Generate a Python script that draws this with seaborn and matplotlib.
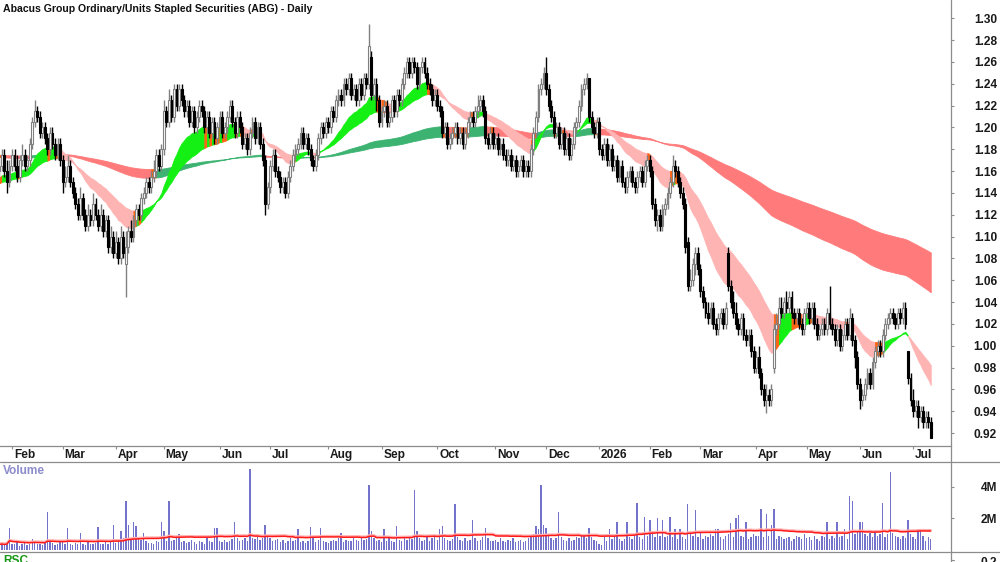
import numpy as np
import pandas as pd
import seaborn as sns
import matplotlib.pyplot as plt
from matplotlib.lines import Line2D

title = "Abacus Group Ordinary/Units Stapled Securities (ABG) - Daily"

# ASX trading days shown on the chart
holidays = ["2025-01-27", "2025-04-18", "2025-04-21", "2025-04-25", "2025-06-09",
            "2025-12-25", "2025-12-26", "2026-01-01", "2026-01-26", "2026-04-03",
            "2026-04-06", "2026-06-08"]
dates = pd.bdate_range("2025-01-24", "2026-07-10", freq="C", holidays=holidays)

# daily prices in cents
opens = [
    116, 116.5, 117.5, 116, 115, 116.5, 117.5, 116.5, 115.5, 117,
    117.5, 116.5, 117, 118.5, 120.5, 121.5, 121, 119.5, 120, 119,
    118, 119.5, 118.5, 117.5, 118.5, 117, 115, 115.5, 116.5, 115,
    114, 113, 112, 113.5, 112, 111, 112, 111.5, 113, 112,
    111, 112, 110.5, 111.5, 109, 110, 108.5, 109.5, 108, 110,
    107.5, 109, 110.5, 110, 111.5, 112.5, 112, 113.5, 114, 115,
    114.5, 115.5, 116, 117.5, 116.5, 118, 121.5, 120.5, 122.5, 121,
    123.5, 122, 123.5, 122.5, 121.5, 122, 120.5, 121.5, 120, 121,
    122, 121.5, 120, 121, 119.5, 120.5, 119, 120, 121, 119.5,
    120, 121, 122, 120.5, 119.5, 121, 120, 118.5, 119, 118,
    119.5, 120.5, 119, 120, 118.5, 117, 113, 114.5, 116.5, 117.5,
    116, 115.5, 114.5, 115, 114, 115.5, 116.5, 117.5, 118, 118.5,
    119.5, 118.5, 119, 118, 117, 116.5, 117.5, 119, 120, 119.5,
    120.5, 120, 121.5, 121, 122.5, 123, 122.5, 124, 123.5, 124.5,
    123, 123.5, 122.5, 124, 123, 124.5, 124, 126.5, 123, 124,
    122.5, 120.5, 121.5, 122, 120.5, 121, 122.5, 121.5, 123, 122.5,
    124, 125, 126, 125, 126, 125.5, 124, 125.5, 126, 125,
    124, 123.5, 122.5, 123, 122, 121.5, 119.5, 120, 118.5, 119,
    119.5, 120, 119, 119.5, 118.5, 119.5, 120.5, 121, 120.5, 121.5,
    122, 122.5, 121.5, 119, 118.5, 119.5, 118.5, 119, 118, 118.5,
    117.5, 117, 117.5, 116.5, 117, 116, 116.5, 117, 116, 116.5,
    116, 118, 119.5, 121, 123.5, 124, 125, 123.5, 122, 121,
    119.5, 120, 118.5, 119.5, 118, 119, 117.5, 118.5, 120, 120.5,
    122, 123.5, 124, 124.5, 121, 120, 119.5, 120.5, 118, 117.5,
    118.5, 117, 118, 116.5, 117, 115.5, 116.5, 115, 114.5, 115.5,
    116, 115, 114.5, 115.5, 116, 115, 116.5, 117, 116, 113,
    111.5, 112, 111, 112.5, 113, 114, 115, 116.5, 116, 115,
    114, 113, 109.5, 105.5, 106, 107.5, 108.5, 107, 105, 104,
    103, 102.5, 103.5, 102, 101.5, 102.5, 103, 102, 108.5, 105.5,
    104, 103, 102, 101.5, 102.5, 101, 100.5, 101, 99.5, 98,
    99, 97.5, 96, 95, 95.5, 95, 98, 101.5, 102, 103.5,
    103, 104, 103.5, 104.5, 103, 102.5, 103, 102, 101.5, 103,
    103.5, 102.5, 103.5, 102, 101, 101.5, 102, 101.5, 103, 102,
    101.5, 100.5, 101.5, 100, 101, 102, 101, 102.5, 100.5, 99,
    96.5, 95, 95.5, 96.5, 97.5, 96.5, 98.5, 99.5, 100, 99.5,
    101, 102, 102.5, 103, 102.5, 102, 103, 102.5, 103.5, 99.5,
    97, 95, 94, 94.5, 93.5, 94, 93, 93.5, 93,
]
highs = [
    117.5, 118, 118, 117, 117, 118, 118, 117.5, 117.5, 118.5,
    118, 117.5, 119, 121, 122.5, 122, 121.5, 120.5, 120.5, 119.5,
    120, 120, 119, 119, 119, 117.5, 116.5, 117.5, 117, 115.5,
    114.5, 113.5, 114.5, 114, 112.5, 113, 112.5, 114, 113.5, 112.5,
    113, 112.5, 112, 112, 111, 110.5, 110.5, 110, 111, 110.5,
    110.5, 111, 111.5, 112, 113, 113, 114, 114.5, 115.5, 115.5,
    116, 117, 118, 118, 118.5, 122.5, 122, 123.5, 123, 124,
    124, 124, 124, 123, 122.5, 122.5, 122, 122, 121.5, 122.5,
    122.5, 122, 121.5, 121.5, 121, 121, 120.5, 121.5, 121.5, 120.5,
    121.5, 122.5, 122.5, 121, 121.5, 121.5, 120.5, 119.5, 119.5, 120,
    121, 121, 120.5, 120.5, 119, 117.5, 115, 117, 118, 118,
    116.5, 116, 115.5, 115.5, 116, 117, 118, 118.5, 119, 120,
    120, 119.5, 119.5, 118.5, 117.5, 118, 119.5, 120.5, 120.5, 121,
    121, 122, 122, 123, 123.5, 123.5, 124.5, 124.5, 125, 125,
    124, 124, 124.5, 124.5, 125, 125, 129.5, 127, 124.5, 124.5,
    123, 122, 122.5, 122.5, 121.5, 123, 123, 123.5, 123.5, 124.5,
    125.5, 126.5, 126.5, 126.5, 126.5, 126, 125.5, 126.5, 126.5, 125.5,
    124.5, 124, 123.5, 123.5, 122.5, 122, 120.5, 120.5, 119.5, 120,
    120.5, 120.5, 120, 120, 120, 121, 121.5, 121.5, 122, 123,
    123, 123, 122, 119.5, 120, 120, 119.5, 119.5, 119, 119,
    118, 118, 118, 117.5, 117.5, 117, 117.5, 117.5, 117, 117,
    118.5, 120, 121.5, 124, 124.5, 125.5, 126.5, 124, 122.5, 121.5,
    120.5, 120.5, 120, 120, 119.5, 119.5, 119, 120.5, 121, 122.5,
    124, 124.5, 125, 124.5, 121.5, 120.5, 121, 121, 118.5, 119,
    119, 118.5, 118.5, 117.5, 117.5, 117, 117, 115.5, 116, 116.5,
    116.5, 115.5, 116, 116.5, 116.5, 117, 117.5, 117.5, 116.5, 113.5,
    112.5, 112.5, 113, 113.5, 114.5, 115.5, 117.5, 117, 116.5, 115.5,
    114.5, 113.5, 110, 107, 108, 109, 109, 107.5, 105.5, 104.5,
    104, 104, 104, 102.5, 103, 103.5, 103.5, 104, 109, 106,
    105, 104, 102.5, 103, 103, 101.5, 101.5, 101.5, 100, 99.5,
    100, 98, 96.5, 96.5, 96, 96.5, 102, 103, 104.5, 104.5,
    104.5, 105, 105, 105, 103.5, 103.5, 103.5, 102.5, 103.5, 104,
    104, 104, 104, 102.5, 102, 102.5, 102.5, 103.5, 105.5, 102.5,
    102, 102, 102, 101.5, 102.5, 102.5, 103.5, 103, 101, 99.5,
    97, 96, 97, 98, 98, 99, 100, 100.5, 100.5, 101.5,
    102.5, 103, 103.5, 103.5, 103, 103.5, 103.5, 104, 104, 99.5,
    97.5, 96, 95, 95, 94.5, 94.5, 94, 94, 93.5,
]
lows = [
    115.5, 116, 115.5, 114, 114.5, 116, 116, 115, 115, 116.5,
    116, 116, 116.5, 118, 120, 120.5, 119, 119, 118.5, 117.5,
    117.5, 118, 117, 117, 116.5, 114, 114.5, 115, 114.5, 113.5,
    112.5, 111.5, 111.5, 111.5, 110.5, 110.5, 111, 111, 111.5, 110.5,
    110.5, 110, 110, 108.5, 108.5, 108, 108, 107.5, 107.5, 108,
    104.5, 108.5, 109.5, 109.5, 111, 111.5, 111.5, 113, 113.5, 114,
    114, 115, 115.5, 116, 116, 117.5, 120, 120, 120.5, 120.5,
    121.5, 121.5, 122, 121, 121, 120, 120, 119.5, 119.5, 120.5,
    121, 119.5, 119.5, 119, 119, 118.5, 118.5, 119.5, 119, 119,
    119.5, 120.5, 120, 119, 119, 119.5, 118, 118, 117.5, 117.5,
    119, 118.5, 118.5, 118, 116.5, 112, 112.5, 114, 116, 115.5,
    115, 114, 114, 113.5, 113.5, 115, 116, 117, 117.5, 118,
    118, 118, 117.5, 116.5, 116, 116, 117, 118.5, 119, 119,
    119.5, 119.5, 120.5, 120.5, 122, 122, 122, 123, 123, 122.5,
    122.5, 122, 122, 122.5, 122.5, 123.5, 123.5, 122.5, 122.5, 121.5,
    120, 120, 121, 120, 120, 120.5, 121, 121, 122, 122,
    123.5, 124.5, 124.5, 124.5, 125, 123.5, 123.5, 125, 124.5, 123.5,
    123, 122, 122, 121.5, 121, 119, 119, 118, 118, 118.5,
    119, 118.5, 118.5, 118, 118, 119, 120, 120, 120, 121,
    121.5, 121, 118.5, 118, 118, 118, 118, 117.5, 117.5, 117,
    116.5, 116.5, 116, 116, 115.5, 115.5, 116, 115.5, 115.5, 115.5,
    115.5, 117.5, 119, 120.5, 123, 123.5, 123, 121.5, 120.5, 119,
    119, 118, 118, 117.5, 117.5, 117, 117, 118, 119.5, 120,
    121.5, 123, 123.5, 120.5, 119.5, 119, 119, 117.5, 117, 117,
    116.5, 116.5, 116, 116, 115, 115, 114.5, 114, 114, 115,
    114.5, 114, 114, 115, 114.5, 114.5, 116, 115.5, 112.5, 111,
    110.5, 110.5, 110.5, 112, 112.5, 113.5, 114.5, 115.5, 114.5, 113.5,
    112.5, 108.5, 105, 105, 105.5, 106.5, 106.5, 104.5, 103.5, 102.5,
    102, 102, 101.5, 101, 101, 102, 101.5, 101.5, 105, 103.5,
    102.5, 101.5, 101, 101, 100.5, 100, 100, 99, 97.5, 97.5,
    97, 95.5, 94.5, 93.8, 94.5, 94.5, 97.5, 101, 101.5, 102.5,
    102.5, 103, 103, 102.5, 102, 102, 101.5, 101, 101, 102.5,
    102, 102, 101.5, 100.5, 100.5, 101, 101, 101, 101.5, 101,
    100, 100, 99.5, 99.5, 100.5, 100.5, 100.5, 100, 98, 96,
    94.2, 94.5, 95, 96, 96, 96, 98, 99, 99, 99,
    100.5, 101.5, 102, 102, 101.5, 101.5, 102, 102, 101.5, 96.5,
    94.5, 93.5, 93.5, 92.5, 93, 92.5, 92.5, 92.5, 91.5,
]
closes = [
    116.5, 117.5, 116, 115, 116.5, 117.5, 116.5, 115.5, 117, 117.5,
    116.5, 117, 118.5, 120.5, 121.5, 121, 119.5, 120, 119, 118,
    119.5, 118.5, 117.5, 118.5, 117, 115, 115.5, 116.5, 115, 114,
    113, 112, 113.5, 112, 111, 112, 111.5, 113, 112, 111,
    112, 110.5, 111.5, 109, 110, 108.5, 109.5, 108, 110, 108.5,
    109, 110.5, 110, 111.5, 112.5, 112, 113.5, 114, 115, 114.5,
    115.5, 116, 117.5, 116.5, 118, 121.5, 120.5, 122.5, 121, 123.5,
    122, 123.5, 122.5, 121.5, 122, 120.5, 121.5, 120, 121, 122,
    121.5, 120, 121, 119.5, 120.5, 119, 120, 121, 119.5, 120,
    121, 122, 120.5, 119.5, 121, 120, 118.5, 119, 118, 119.5,
    120.5, 119, 120, 118.5, 117, 113, 114.5, 116.5, 117.5, 116,
    115.5, 114.5, 115, 114, 115.5, 116.5, 117.5, 118, 118.5, 119.5,
    118.5, 119, 118, 117, 116.5, 117.5, 119, 120, 119.5, 120.5,
    120, 121.5, 121, 122.5, 123, 122.5, 124, 123.5, 124.5, 123,
    123.5, 122.5, 124, 123, 124.5, 124, 127.5, 123, 124, 122.5,
    120.5, 121.5, 122, 120.5, 121, 122.5, 121.5, 123, 122.5, 124,
    125, 126, 125, 126, 125.5, 124, 125.5, 126, 125, 124,
    123.5, 122.5, 123, 122, 121.5, 119.5, 120, 118.5, 119, 119.5,
    120, 119, 119.5, 118.5, 119.5, 120.5, 121, 120.5, 121.5, 122,
    122.5, 121.5, 119, 118.5, 119.5, 118.5, 119, 118, 118.5, 117.5,
    117, 117.5, 116.5, 117, 116, 116.5, 117, 116, 116.5, 116,
    118, 119.5, 121, 123.5, 124, 125, 123.5, 122, 121, 119.5,
    120, 118.5, 119.5, 118, 119, 117.5, 118.5, 120, 120.5, 122,
    123.5, 124, 124.5, 121, 120, 119.5, 120.5, 118, 117.5, 118.5,
    117, 118, 116.5, 117, 115.5, 116.5, 115, 114.5, 115.5, 116,
    115, 114.5, 115.5, 116, 115, 116.5, 117, 116, 113, 111.5,
    112, 111, 112.5, 113, 114, 115, 116.5, 116, 115, 114,
    113, 109, 105.5, 106, 107.5, 108.5, 107, 105, 104, 103,
    102.5, 103.5, 102, 101.5, 102.5, 103, 102, 103.5, 105.5, 104,
    103, 102, 101.5, 102.5, 101, 100.5, 101, 99.5, 98, 99,
    97.5, 96, 95, 95.5, 95, 96, 101.5, 102, 103.5, 103,
    104, 103.5, 104.5, 103, 102.5, 103, 102, 101.5, 103, 103.5,
    102.5, 103.5, 102, 101, 101.5, 102, 101.5, 103, 102, 101.5,
    100.5, 101.5, 100, 101, 102, 101, 102.5, 100.5, 99, 96.5,
    95, 95.5, 96.5, 97.5, 96.5, 98.5, 99.5, 100, 99.5, 101,
    102, 102.5, 103, 102.5, 102, 103, 102.5, 103.5, 102, 97,
    95, 94, 94.5, 93.5, 94, 93, 93.5, 93, 91.5,
]
# daily volume, millions of shares
volumes = [
    0.35, 0.4, 0.3, 0.45, 1.4, 0.35, 0.4, 0.5, 0.25, 0.4,
    0.45, 0.3, 0.35, 0.7, 0.55, 0.4, 0.35, 0.3, 0.5, 2.4,
    0.55, 0.45, 0.3, 0.4, 0.5, 0.6, 0.35, 1.4, 0.4, 0.3,
    0.45, 0.35, 1.1, 0.4, 0.3, 0.5, 0.35, 0.4, 0.45, 1.45,
    0.4, 0.35, 0.5, 0.4, 0.55, 1.6, 0.45, 0.65, 1.2, 0.75,
    3.1, 1.6, 0.75, 1.8, 1.5, 0.85, 0.65, 1.1, 0.55, 0.45,
    0.45, 0.4, 0.55, 0.5, 1.8, 1.2, 0.6, 3.1, 0.55, 0.65,
    0.75, 1.0, 0.5, 0.55, 0.45, 0.5, 0.65, 0.5, 0.4, 0.55,
    0.5, 0.4, 0.75, 0.6, 0.5, 1.4, 1.4, 0.55, 0.5, 0.65,
    0.5, 0.55, 0.7, 1.75, 0.75, 0.55, 0.65, 0.75, 0.6, 5.1,
    0.75, 0.7, 0.85, 0.65, 0.75, 1.6, 0.9, 0.75, 0.55, 0.65,
    0.7, 0.5, 0.65, 0.45, 0.55, 0.75, 0.6, 0.65, 1.3, 0.5,
    0.55, 0.45, 0.6, 1.45, 0.75, 0.5, 0.65, 1.4, 0.55, 0.5,
    0.45, 0.55, 0.65, 0.55, 0.75, 1.05, 0.5, 0.65, 0.55, 0.6,
    0.75, 0.65, 0.55, 0.8, 0.65, 0.7, 4.1, 1.2, 0.75, 0.55,
    0.65, 0.5, 1.3, 0.55, 0.75, 0.6, 0.5, 1.5, 0.65, 0.55,
    0.75, 0.65, 0.9, 0.7, 3.8, 1.2, 0.75, 0.55, 0.65, 0.85,
    0.6, 0.75, 0.9, 0.65, 1.3, 1.5, 0.75, 0.65, 0.55, 0.7,
    2.9, 0.85, 0.65, 0.55, 0.75, 0.6, 0.65, 1.9, 0.75, 0.55,
    0.65, 0.85, 1.4, 0.75, 0.6, 0.55, 0.65, 0.5, 0.75, 0.55,
    0.5, 0.65, 0.55, 0.75, 0.5, 0.55, 0.65, 0.5, 0.6, 0.75,
    0.9, 1.0, 1.5, 1.3, 4.1, 1.6, 1.4, 0.9, 0.75, 0.65,
    0.75, 2.4, 0.85, 0.65, 0.55, 0.75, 0.6, 0.65, 0.85, 0.75,
    0.9, 1.0, 0.75, 1.4, 0.85, 0.65, 0.55, 0.4, 0.3, 0.85,
    0.6, 1.35, 0.7, 0.8, 1.8, 0.7, 0.6, 0.7, 1.75, 0.8,
    0.7, 0.9, 3.0, 0.8, 0.7, 2.1, 0.9, 1.9, 1.2, 0.8,
    2.0, 0.9, 1.9, 0.8, 0.9, 2.1, 0.8, 1.35, 0.7, 1.35,
    0.8, 0.7, 2.9, 1.1, 0.9, 2.5, 0.8, 1.2, 0.7, 0.9,
    0.8, 1.0, 0.9, 1.35, 1.35, 0.8, 0.7, 0.9, 1.0, 1.7,
    0.8, 2.0, 2.2, 0.9, 0.8, 1.8, 0.7, 0.8, 1.0, 0.9,
    0.9, 2.6, 0.8, 2.3, 0.9, 1.6, 2.6, 0.7, 0.9, 0.8,
    0.7, 0.75, 0.8, 0.6, 0.7, 0.9, 0.8, 0.7, 1.0, 0.75,
    0.8, 0.65, 0.9, 0.7, 0.6, 0.9, 0.8, 1.8, 0.7, 0.9,
    0.75, 1.75, 0.8, 0.9, 1.35, 0.7, 3.4, 3.1, 1.0, 1.2,
    1.8, 1.8, 1.0, 0.9, 1.1, 0.8, 1.2, 0.9, 1.0, 3.0,
    0.8, 1.0, 4.9, 1.1, 0.9, 0.8, 0.7, 0.9, 0.75, 1.9,
    1.0, 0.8, 0.7, 1.35, 1.3, 0.9, 0.6, 0.85, 0.7,
]

# moving-average ribbons: spans and their levels at the left edge (cents)
short_spans = [20, 40]
short_start = [115.3, 114.8]
long_spans = [150, 250]
long_start = [117.3, 117.5]

price_ticks = [0.92, 0.94, 0.96, 0.98, 1.00, 1.02, 1.04, 1.06, 1.08, 1.10,
               1.12, 1.14, 1.16, 1.18, 1.20, 1.22, 1.24, 1.26, 1.28, 1.30]
volume_ticks = [2, 4]
volume_labels = ["2M", "4M"]

df = pd.DataFrame({"date": dates, "open": np.array(opens) / 100, "high": np.array(highs) / 100,
                   "low": np.array(lows) / 100, "close": np.array(closes) / 100,
                   "volume": volumes})
df["i"] = np.arange(len(df))


def ema(values, span, start):
    s = pd.Series(np.r_[start, values]).ewm(span=span, adjust=False).mean()
    return s.to_numpy()[1:]


sns.set_style("white")
plt.rcParams["font.family"] = ["Liberation Sans", "DejaVu Sans"]
plt.rcParams["font.weight"] = "bold"

W, H = 1000, 562
fig = plt.figure(figsize=(10, 5.62), dpi=100)
ax = fig.add_axes([0, 116 / H, 951 / W, 446 / H])
axv = fig.add_axes([0, 10 / H, 951 / W, 90 / H])

x = df["i"].to_numpy()
xlim = (0.26, 376.0)
grey = "#8c8c8c"


def draw_band(fast, slow, colours):
    d1 = np.diff(fast, prepend=fast[0])
    d2 = np.diff(slow, prepend=slow[0])
    state = np.where((d1 > 0) & (d2 > 0), 0, np.where((d1 < 0) & (d2 < 0), 1, 2))
    lo, hi = np.minimum(fast, slow), np.maximum(fast, slow)
    start = 0
    for k in range(1, len(state) + 1):
        if k == len(state) or state[k] != state[start]:
            end = min(k + 1, len(state))
            c = colours[state[start]]
            ax.fill_between(x[start:end], lo[start:end], hi[start:end],
                            color=c, linewidth=0.6, edgecolor=c, zorder=1)
            start = k


c = df["close"].to_numpy()
long_f = ema(c, long_spans[0], long_start[0] / 100)
long_s = ema(c, long_spans[1], long_start[1] / 100)
short_f = ema(c, short_spans[0], short_start[0] / 100)
short_s = ema(c, short_spans[1], short_start[1] / 100)
draw_band(long_f, long_s, ["#3cb371", "#ff7a7a", "#ff6414"])
draw_band(short_f, short_s, ["#14f014", "#ffb4b4", "#ff6414"])

# candles
o, h, l = df["open"].to_numpy(), df["high"].to_numpy(), df["low"].to_numpy()
up = c >= o
body_lo = np.minimum(o, c)
body_h = np.maximum(np.abs(c - o), 0.0012)
ax.vlines(x[up], l[up], h[up], color="#808080", linewidth=1.0, zorder=2)
ax.vlines(x[~up], l[~up], h[~up], color="black", linewidth=1.0, zorder=2)
ax.bar(x[up], body_h[up], bottom=body_lo[up], width=0.74, facecolor="white",
       edgecolor="#808080", linewidth=0.8, zorder=3)
ax.bar(x[~up], body_h[~up], bottom=body_lo[~up], width=0.74, facecolor="black",
       edgecolor="black", linewidth=0.8, zorder=3)

ax.set_xlim(*xlim)
ax.set_ylim(0.9081, 1.3168)
ax.yaxis.tick_right()
ax.set_yticks(price_ticks)
ax.set_yticklabels([f"{t:.2f}" for t in price_ticks])
ax.tick_params(axis="y", right=True, direction="out", length=2.2, width=0.8, color=grey,
               pad=31, labelsize=8.6, labelcolor="#1a1a1a")
for lab in ax.get_yticklabels():
    lab.set_ha("right")

# month axis
month_start = df.groupby([df["date"].dt.year, df["date"].dt.month])["i"].min().iloc[1:]
month_names = []
for (yr, mo), idx in month_start.items():
    month_names.append(str(yr) if mo == 1 else pd.Timestamp(yr, mo, 1).strftime("%b"))
ax.set_xticks(month_start.to_numpy())
ax.set_xticklabels([])
ax.tick_params(axis="x", bottom=True, direction="out", length=2.5, width=0.8, color=grey)
for idx, name in zip(month_start.to_numpy(), month_names):
    ax.annotate(name, xy=(idx, 0), xycoords=("data", "axes fraction"), xytext=(1.3, -6.3),
                textcoords="offset points", ha="left", va="center", fontsize=8.6,
                color="#1a1a1a", annotation_clip=False)
for side in ["top", "left", "right"]:
    ax.spines[side].set_visible(False)
ax.spines["bottom"].set_color(grey)
ax.spines["bottom"].set_linewidth(0.9)

# volume panel
axv.bar(x, df["volume"], width=0.55, color="#7373cc", linewidth=0)
df["vol_ma"] = df["volume"].rolling(50, min_periods=1).mean()
sns.lineplot(x=x, y=df["vol_ma"].to_numpy() + 0.06, ax=axv, color="#ffb0b0", linewidth=1.6)
sns.lineplot(x=x, y=df["vol_ma"].to_numpy(), ax=axv, color="#ff1a1a", linewidth=1.1)
axv.set_xlim(*xlim)
axv.set_ylim(-0.126, 5.56)
axv.set_xticks([])
axv.yaxis.tick_right()
axv.set_yticks(volume_ticks)
axv.set_yticklabels(volume_labels)
axv.tick_params(axis="y", right=True, direction="out", length=2.2, width=0.8, color=grey,
                pad=31, labelsize=8.6, labelcolor="#1a1a1a")
for lab in axv.get_yticklabels():
    lab.set_ha("right")
for s in axv.spines.values():
    s.set_visible(False)

# frame lines shared by the panels
for yp in [462, 552]:
    fig.add_artist(Line2D([0, 1], [1 - yp / H, 1 - yp / H], transform=fig.transFigure,
                          color=grey, linewidth=0.9))
fig.add_artist(Line2D([951 / W, 951 / W], [0, 1], transform=fig.transFigure,
                      color=grey, linewidth=0.9))
fig.add_artist(Line2D([951 / W, 954 / W], [1 - 560 / H, 1 - 560 / H], transform=fig.transFigure,
                      color=grey, linewidth=0.8))

fig.text(3 / W, 1 - 8.5 / H, title, ha="left", va="center", fontsize=7.6, color="#111111")
fig.text(3 / W, 1 - 471 / H, "Volume", ha="left", va="center", fontsize=8.6, color="#8c8ccc")
fig.text(3 / W, 1 - 555 / H, "RSC", ha="left", va="top", fontsize=8.6, color="#1a9a1a")
fig.text(997 / W, 1 - 556.5 / H, "0.2", ha="right", va="top", fontsize=8.6, color="#1a1a1a")

fig.savefig("out.png", dpi=100)
